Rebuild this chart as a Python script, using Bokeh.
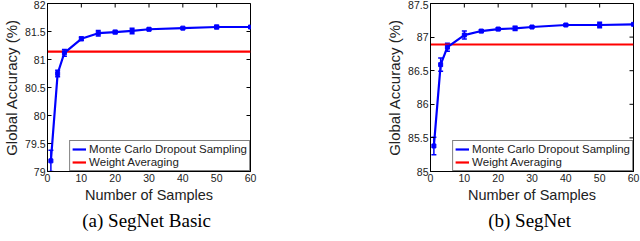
import math
from bokeh.plotting import figure
from bokeh.models import (ColumnDataSource, Whisker, TeeHead, Legend, LegendItem,
                          Title, Range1d, FixedTicker)
from bokeh.layouts import row
from bokeh.embed import file_html
from bokeh.resources import INLINE

samples = [1, 3, 5, 10, 15, 20, 25, 30, 40, 50, 60]
x_ticks = [0, 10, 20, 30, 40, 50, 60]

basic_mean = [79.19, 80.75, 81.12, 81.37, 81.47, 81.49, 81.51, 81.54, 81.56, 81.58, 81.58]
basic_err = [0.19, 0.06, 0.06, 0.03, 0.05, 0.03, 0.05, 0.02, 0.01, 0.03, 0.02]
basic_wavg = 81.14
basic_yticks = [79, 79.5, 80, 80.5, 81, 81.5, 82]

segnet_mean = [85.38, 86.59, 86.85, 87.03, 87.09, 87.12, 87.13, 87.15, 87.18, 87.18, 87.19]
segnet_err = [0.13, 0.10, 0.06, 0.06, 0.02, 0.02, 0.03, 0.01, 0.01, 0.04, 0.01]
segnet_wavg = 86.89
segnet_yticks = [85, 85.5, 86, 86.5, 87, 87.5]

captions = ["(a)  SegNet Basic", "(b)  SegNet"]
legend_labels = ["Monte Carlo Dropout Sampling", "Weight Averaging"]

BLUE = "#0000ff"
RED = "#ff0000"
TXT = "#222222"
FONT = "Liberation Sans"


def style_axis(ax, ticks):
    ax.ticker = FixedTicker(ticks=ticks)
    ax.minor_tick_line_color = None
    ax.major_tick_in = 4
    ax.major_tick_out = 0
    ax.axis_line_color = "black"
    ax.major_tick_line_color = "black"
    ax.major_label_text_font = FONT
    ax.major_label_text_font_size = "10.5px"
    ax.major_label_text_color = TXT
    ax.major_label_standoff = 2
    ax.axis_label_text_font = FONT
    ax.axis_label_text_font_style = "normal"
    ax.axis_label_text_color = TXT
    ax.axis_label_standoff = 2


def make_panel(mean, err, wavg, yticks, caption, border_right):
    src = ColumnDataSource(dict(
        x=samples, y=mean,
        lower=[m - e for m, e in zip(mean, err)],
        upper=[m + e for m, e in zip(mean, err)],
    ))
    p = figure(frame_width=203, frame_height=168,
               x_range=Range1d(x_ticks[0], x_ticks[-1]),
               y_range=Range1d(yticks[0], yticks[-1]),
               output_backend="svg", toolbar_location=None,
               min_border_top=3, min_border_bottom=0, min_border_left=0,
               min_border_right=border_right,
               outline_line_color="black")
    p.xgrid.visible = False
    p.ygrid.visible = False
    style_axis(p.xaxis[0], x_ticks)
    style_axis(p.yaxis[0], yticks)
    p.xaxis.axis_label = "Number of Samples"
    p.yaxis.axis_label = "Global Accuracy (%)"
    p.xaxis.axis_label_text_font_size = "14.5px"
    p.yaxis.axis_label_text_font_size = "15px"

    # inward tick marks on the top and right edges (clipped to the frame)
    p.scatter(x_ticks, [yticks[-1]] * len(x_ticks), marker="dash", angle=math.pi / 2,
              size=8, line_color="black", line_width=1)
    p.scatter([x_ticks[-1]] * len(yticks), yticks, marker="dash",
              size=8, line_color="black", line_width=1)

    wa = p.line([x_ticks[0], x_ticks[-1]], [wavg, wavg], line_color=RED, line_width=2.2)
    mc = p.line("x", "y", source=src, line_color=BLUE, line_width=2.2)
    p.scatter("x", "y", source=src, marker="square", size=4, color=BLUE)
    p.add_layout(Whisker(base="x", lower="lower", upper="upper", source=src,
                         line_color=BLUE, line_width=1.5,
                         upper_head=TeeHead(size=5, line_color=BLUE, line_width=1.5),
                         lower_head=TeeHead(size=5, line_color=BLUE, line_width=1.5)))

    legend = Legend(items=[LegendItem(label=legend_labels[0], renderers=[mc]),
                           LegendItem(label=legend_labels[1], renderers=[wa])],
                    location="bottom_right", margin=0, padding=2, spacing=1,
                    glyph_width=14, glyph_height=12, label_height=12,
                    label_standoff=3, label_text_font=FONT,
                    label_text_font_size="11.5px", label_text_color=TXT,
                    border_line_color="black", border_line_width=1,
                    background_fill_color="white", background_fill_alpha=1)
    p.add_layout(legend)

    p.add_layout(Title(text=caption, align="center", text_font="Liberation Serif",
                       text_font_size="19px", text_font_style="normal",
                       text_color="black", standoff=5), "below")
    return p


p1 = make_panel(basic_mean, basic_err, basic_wavg, basic_yticks, captions[0], 133)
p2 = make_panel(segnet_mean, segnet_err, segnet_wavg, segnet_yticks, captions[1], 8)
p = row(p1, p2)

open("out.html", "w").write(file_html(p, INLINE))
